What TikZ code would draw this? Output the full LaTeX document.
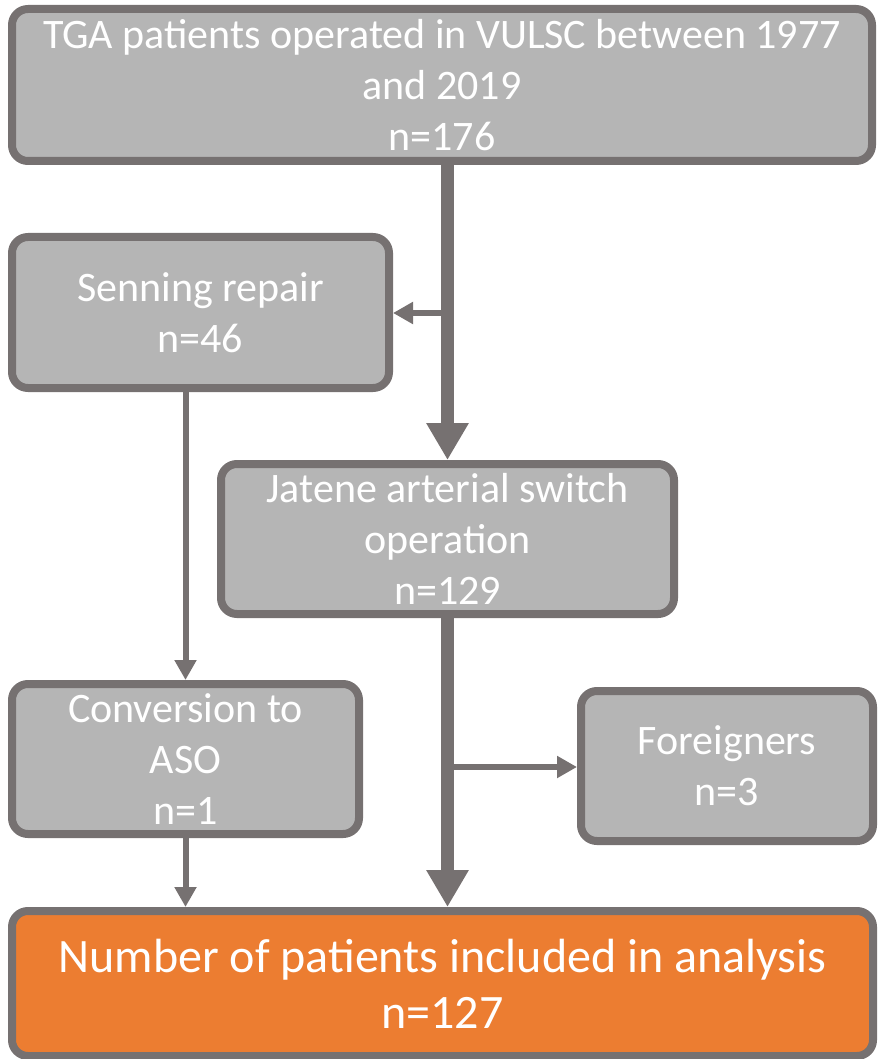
\documentclass[tikz,border=0pt]{standalone}
\usepackage{fontspec}
\setmainfont{Carlito}
\usetikzlibrary{arrows.meta}

\definecolor{boxgray}{HTML}{B5B5B5}
\definecolor{edgegray}{HTML}{767171}
\definecolor{inclorange}{HTML}{EC7D31}

\begin{document}
\begin{tikzpicture}[
    x=1pt, y=-1pt,
    block/.style={draw=edgegray, line width=8pt, rounded corners=16pt,
                  fill=boxgray, text=white, align=center,
                  inner sep=0pt, font=\fontsize{42}{51}\selectfont},
    final/.style={block, fill=inclorange,
                  font=\fontsize{48}{56}\selectfont},
    mainarr/.style={draw=edgegray, line width=13pt,
                    -{Triangle[width=40pt,length=37pt]}},
    sidearr/.style={draw=edgegray, line width=6pt,
                    -{Triangle[width=21pt,length=20pt]}}
]
  \useasboundingbox (0,0) rectangle (878,1059);

  \node[block, minimum width=860pt, minimum height=152pt] (tga) at (442,85)
    {TGA patients operated in VULSC between 1977\\ and 2019\\ n=176};
  \node[block, minimum width=377pt, minimum height=151pt] (senning) at (200.5,312.5)
    {Senning repair\\ n=46};
  \node[block, minimum width=453pt, minimum height=150pt] (jatene) at (447.5,539)
    {Jatene arterial switch\\ operation\\ n=129};
  \node[block, minimum width=347pt, minimum height=150pt] (aso) at (185.5,759)
    {Conversion to\\ ASO\\ n=1};
  \node[block, minimum width=292pt, minimum height=150pt] (foreign) at (727,766)
    {Foreigners\\ n=3};
  \node[final, minimum width=861pt, minimum height=145pt] (incl) at (442.5,983.5)
    {Number of patients included in analysis\\ n=127};

  % split points on the main flow
  \coordinate (split1) at (447.5,313);
  \coordinate (split2) at (447.5,767);

  \draw[mainarr] (jatene.north |- tga.south) -- (jatene.north);
  \draw[sidearr] (split1) -- (senning.east |- split1);
  \draw[sidearr] (aso.north |- senning.south) -- (aso.north);
  \draw[mainarr] (jatene.south) -- (jatene.south |- incl.north);
  \draw[sidearr] (split2) -- (foreign.west |- split2);
  \draw[sidearr] (aso.south) -- (aso.south |- incl.north);
\end{tikzpicture}
\end{document}
